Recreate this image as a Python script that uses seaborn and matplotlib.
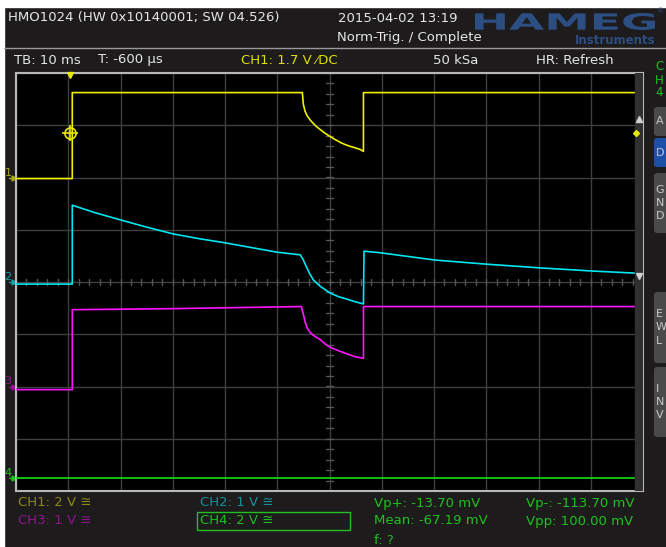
import numpy as np
import pandas as pd
import matplotlib
matplotlib.use("Agg")
import matplotlib.pyplot as plt
import seaborn as sns
from matplotlib.patches import Rectangle, FancyBboxPatch, PathPatch
from matplotlib.textpath import TextPath
from matplotlib.font_manager import FontProperties
from matplotlib.transforms import Affine2D

# time base: 10 ms/div, 12 divisions, trigger at 0
t_left, t_right = -10, 110

# channel traces, time in ms, value in volts
ch1_t = [-10, 0.77, 0.77, 44.8, 45.0, 45.3, 45.7, 46.3, 46.9, 47.5, 48.2, 49.1, 50.1, 51.1, 52.1, 53.0, 54.0, 55.0, 55.9, 56.5, 56.5, 108.5]
ch1_v = [-0.04, -0.04, 3.25, 3.25, 2.80, 2.55, 2.37, 2.20, 2.07, 1.95, 1.84, 1.70, 1.57, 1.45, 1.34, 1.26, 1.19, 1.13, 1.07, 1.0, 3.25, 3.25]

ch2_t = [-10, 0.77, 0.77, 5.0, 9.95, 15.0, 20.1, 25.0, 30.0, 35.0, 40.0, 44.4, 44.9, 45.4, 46.1, 46.9, 48.2, 50.1, 51.7, 53.4, 55.0, 56.5, 56.6, 59.7, 70.2, 80.2, 90.3, 100.3, 108.5]
ch2_v = [-0.04, -0.04, 1.47, 1.33, 1.19, 1.05, 0.92, 0.83, 0.75, 0.66, 0.57, 0.52, 0.44, 0.33, 0.18, 0.04, -0.08, -0.21, -0.28, -0.33, -0.38, -0.42, 0.59, 0.56, 0.42, 0.34, 0.27, 0.21, 0.17]

ch3_t = [-10, 0.77, 0.77, 20.0, 44.6, 45.0, 45.4, 45.8, 46.3, 47.2, 48.2, 49.1, 50.1, 51.1, 52.1, 53.5, 54.9, 56.5, 56.5, 108.5]
ch3_v = [-0.06, -0.06, 1.47, 1.49, 1.53, 1.38, 1.21, 1.11, 1.03, 0.96, 0.90, 0.82, 0.75, 0.71, 0.67, 0.62, 0.57, 0.54, 1.53, 1.53]

ch4_t = [-10, 108.5]
ch4_v = [0.0, 0.0]

# volts per division and vertical offset (divisions)
scales = {'CH1': 2.0, 'CH2': 1.0, 'CH3': 1.0, 'CH4': 2.0}
offsets = {'CH1': 2.0, 'CH2': 0.0, 'CH3': -2.0, 'CH4': -3.75}
trace_colors = {'CH1': '#f0f000', 'CH2': '#00e6f0', 'CH3': '#ff14ff', 'CH4': '#18e018'}
label_colors = {'CH1': '#a8a810', 'CH2': '#12a0aa', 'CH3': '#a010a0', 'CH4': '#20c020'}
trig_level = 1.7

frames = []
for name, tt, vv in [('CH1', ch1_t, ch1_v), ('CH2', ch2_t, ch2_v),
                     ('CH3', ch3_t, ch3_v), ('CH4', ch4_t, ch4_v)]:
    d = pd.DataFrame({'t': tt, 'v': vv})
    d['div'] = d['v'] / scales[name] + offsets[name]
    d['ch'] = name
    frames.append(d)
df = pd.concat(frames, ignore_index=True)

sns.set_theme(style="dark")
plt.rcParams['font.family'] = ['DejaVu Sans']

W, H = 666, 547
BG = '#1d1b1c'
fig = plt.figure(figsize=(W / 100, H / 100), dpi=100, facecolor=BG)

# background layer in pixel coordinates
bg = fig.add_axes([0, 0, 1, 1])
bg.set_xlim(0, W)
bg.set_ylim(H, 0)
bg.axis('off')
bg.add_patch(Rectangle((0, 0), W, 7, color='white'))
bg.add_patch(Rectangle((0, 0), 4, H, color='white'))
bg.plot([4, W], [47.5, 47.5], color='#9a9a9a', lw=1)

txt = '#e6e6e6'
fs = 9.5
bg.text(8, 18, "HMO1024 (HW 0x10140001; SW 04.526)", color=txt, fontsize=fs, va='center')
bg.text(338, 18, "2015-04-02 13:19", color=txt, fontsize=fs, va='center')
bg.text(337, 37, "Norm-Trig. / Complete", color=txt, fontsize=fs, va='center')

# HAMEG logo
logo_col = '#2c4e82'
tp = TextPath((0, 0), "HAMEG", size=20, prop=FontProperties(family='DejaVu Sans', weight='bold'))
ext = tp.get_extents()
tr = Affine2D().translate(-ext.x0, -ext.y0).scale(180 / ext.width, -17 / ext.height).translate(475, 30)
bg.add_patch(PathPatch(tr.transform_path(tp), color=logo_col, lw=0))
bg.text(657, 11, "®", color=logo_col, fontsize=5, va='center', ha='left')
bg.text(615, 40, "Instruments", color=logo_col, fontsize=8.5, weight='bold', va='center', ha='center')

# second row
ry = 60
bg.text(14, ry, "TB: 10 ms", color=txt, fontsize=fs, va='center')
bg.text(98, ry, "T: -600 µs", color=txt, fontsize=fs, va='center')
bg.text(241, ry, "CH1: 1.7 V ⁄DC", color='#e0e000', fontsize=fs, va='center')
bg.text(433, ry, "50 kSa", color=txt, fontsize=fs, va='center')
bg.text(536, ry, "HR: Refresh", color=txt, fontsize=fs, va='center')
for s, yy in [("C", 66), ("H", 80), ("4", 93)]:
    bg.text(655, yy, s, color='#20c020', fontsize=fs - 1, va='center')

# side buttons
buttons = [(107, 136, "A", '#4a4a4a'), (138, 167, "D", '#1d4fa6'),
           (173, 233, "G\nN\nD", '#4a4a4a'), (292, 363, "E\nW\nL", '#4a4a4a'),
           (367, 437, "I\nN\nV", '#4a4a4a')]
for y0, y1, s, c in buttons:
    bg.add_patch(FancyBboxPatch((654, y0), 20, y1 - y0, boxstyle="round,pad=0,rounding_size=3",
                                fc=c, ec='none'))
    bg.text(655.5, (y0 + y1) / 2, s, color='#c8c8c8', fontsize=8, va='center', linespacing=1.4)

# bottom channel settings and measurements
by1, by2, by3 = 503, 521, 540
bg.text(18, by1, "CH1: 2 V ≅", color='#8c8c12', fontsize=fs, va='center')
bg.text(18, by2, "CH3: 1 V ≅", color='#8e148e', fontsize=fs, va='center')
bg.text(200, by1, "CH2: 1 V ≅", color='#16909a', fontsize=fs, va='center')
bg.add_patch(Rectangle((197, 512), 153, 18, fill=False, ec='#20c020', lw=1))
bg.text(200, by2, "CH4: 2 V ≅", color='#20c020', fontsize=fs, va='center')
meas = '#20c020'
bg.text(374, by1, "Vp+: -13.70 mV", color=meas, fontsize=fs, va='center')
bg.text(374, by2, "Mean: -67.19 mV", color=meas, fontsize=fs, va='center')
bg.text(374, by3, "f: ?", color=meas, fontsize=fs, va='center')
bg.text(526, by1, "Vp-: -113.70 mV", color=meas, fontsize=fs, va='center')
bg.text(526, by2, "Vpp: 100.00 mV", color=meas, fontsize=fs, va='center')

# channel reference markers at left
px_per_div = 52.25
for name, off in offsets.items():
    yy = 282 - off * px_per_div
    bg.text(4.5, yy - 5, name[-1], color=label_colors[name], fontsize=8, va='center')
    bg.plot([9, 14], [yy, yy], color=label_colors[name], lw=1)
    bg.plot(14, yy, marker='>', color=label_colors[name], ms=3.5)

# scope screen
ax = fig.add_axes([16 / W, (H - 491) / H, (643 - 16) / W, (491 - 73) / H])
ax.set_facecolor('black')
ax.set_xlim(t_left, t_right)
ax.set_ylim(-4, 4)
ax.set_xticks(np.arange(t_left, t_right + 1, 10))
ax.set_yticks(np.arange(-4, 5, 1))
ax.grid(True, color='#3e3e3e', lw=1)
ax.tick_params(length=0, labelbottom=False, labelleft=False)
for sp in ax.spines.values():
    sp.set_color('#b8b8b8')
    sp.set_linewidth(1.5)

# centre line ticks
xc = (t_left + t_right) / 2
for tx in np.arange(t_left, t_right + 0.01, 2):
    ax.plot([tx, tx], [-0.06, 0.06], color='#555555', lw=1, zorder=1)
for ty in np.arange(-4, 4.01, 0.2):
    ax.plot([xc - 0.6, xc + 0.6], [ty, ty], color='#555555', lw=1, zorder=1)

sns.lineplot(data=df, x='t', y='div', hue='ch', palette=trace_colors, estimator=None,
             sort=False, lw=1.2, legend=False, ax=ax, zorder=3)
ax.set_xlabel('')
ax.set_ylabel('')

# scrollbar strip at right
ax.add_patch(Rectangle((0.987, 0), 0.013, 1, transform=ax.transAxes, color='#303030', zorder=4))
ax.plot(0.9935, 0.89, marker='^', color='#d0d0d0', ms=4, transform=ax.transAxes, zorder=5)
ax.plot(0.9935, 0.515, marker='v', color='#d0d0d0', ms=4, transform=ax.transAxes, zorder=5)

# trigger markers
trig_div = trig_level / scales['CH1'] + offsets['CH1']
ax.plot(0.3, trig_div, marker='o', mfc='none', mec='#e8e800', ms=8, mew=1.2, zorder=6)
ax.plot(0.3, trig_div, marker='+', color='#e8e800', ms=12, mew=1.2, zorder=6)
ax.plot(0.3, 3.97, marker='v', color='#e8e800', ms=5, zorder=6, clip_on=False)
ax.plot(108.7, trig_div, marker='D', color='#e8e800', ms=3, zorder=6)

fig.savefig("out.png", dpi=100, facecolor=BG)
